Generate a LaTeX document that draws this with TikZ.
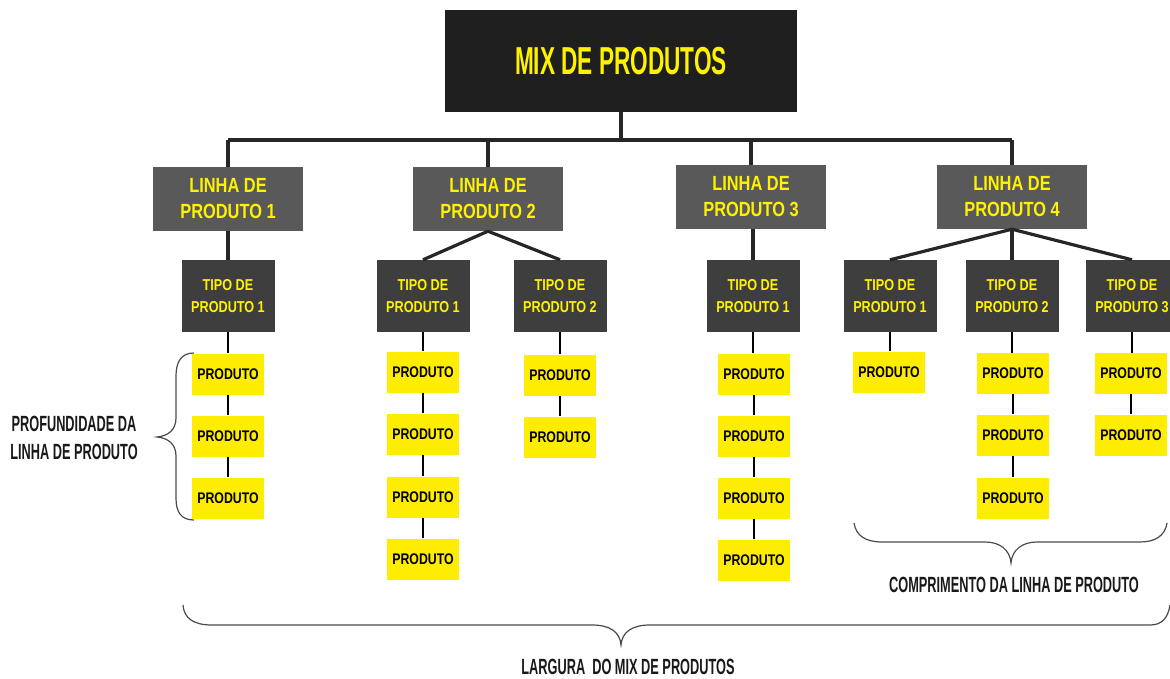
\documentclass[tikz,border=0pt]{standalone}
\usepackage{fontspec}
\setmainfont{Liberation Sans}
\newfontfamily\boxfont[FakeStretch=0.8]{Liberation Sans}
\newfontfamily\labfont[FakeStretch=0.58]{Liberation Sans}
\definecolor{topbg}{HTML}{1F1F1F}
\definecolor{linbg}{HTML}{595959}
\definecolor{tipbg}{HTML}{3E3E3E}
\definecolor{prodbg}{HTML}{FFED00}
\definecolor{txty}{HTML}{FFF200}
\definecolor{ln}{HTML}{262626}
\definecolor{brc}{HTML}{4A4A4A}
\begin{document}
\begin{tikzpicture}[x=1pt,y=-1pt,
  topbox/.style={fill=topbg, minimum width=352pt, minimum height=102pt, inner sep=0pt, text=txty,
    font=\labfont\bfseries\fontsize{39}{39}\selectfont},
  linbox/.style={fill=linbg, minimum width=150pt, minimum height=64pt, inner sep=0pt, text=txty, align=center,
    font=\boxfont\bfseries\fontsize{20.5}{26}\selectfont},
  tipbox/.style={fill=tipbg, minimum width=93pt, minimum height=72pt, inner sep=0pt, text=txty, align=center,
    font=\boxfont\bfseries\fontsize{15.8}{21.5}\selectfont},
  prodbox/.style={fill=prodbg, minimum width=72pt, minimum height=41pt, inner sep=0pt, text=black,
    font=\boxfont\bfseries\fontsize{15.4}{18}\selectfont},
  lab/.style={text=black!90, align=center, inner sep=0pt, font=\labfont\bfseries\fontsize{22}{28}\selectfont},
  busline/.style={draw=ln, line width=3.2pt},
  tline/.style={draw=ln, line width=3.2pt},
  pline/.style={draw=black, line width=2.4pt},
  bracestyle/.style={draw=brc, line width=1.2pt}
]
\clip (0,0) rectangle (1170,679);
\fill[white] (0,0) rectangle (1170,679);

\coordinate (busL) at (228,140);
\coordinate (busR) at (1012,140);

% top
\node[topbox] (top) at (621,61) {MIX DE PRODUTOS};

% product lines
\node[linbox] (L1) at (228,199) {LINHA DE\\PRODUTO 1};
\node[linbox] (L2) at (488,199) {LINHA DE\\PRODUTO 2};
\node[linbox] (L3) at (751,197) {LINHA DE\\PRODUTO 3};
\node[linbox] (L4) at (1012,197) {LINHA DE\\PRODUTO 4};

% types
\node[tipbox] (T11) at (228,296) {TIPO DE\\PRODUTO 1};
\node[tipbox] (T21) at (423,296) {TIPO DE\\PRODUTO 1};
\node[tipbox] (T22) at (560,296) {TIPO DE\\PRODUTO 2};
\node[tipbox] (T31) at (753,296) {TIPO DE\\PRODUTO 1};
\node[tipbox] (T41) at (890,296) {TIPO DE\\PRODUTO 1};
\node[tipbox] (T42) at (1012,296) {TIPO DE\\PRODUTO 2};
\node[tipbox] (T43) at (1132,296) {TIPO DE\\PRODUTO 3};

% products
\node[prodbox] (P11a) at (228,374) {PRODUTO};
\node[prodbox] (P11b) at (228,436) {PRODUTO};
\node[prodbox] (P11c) at (228,498) {PRODUTO};

\node[prodbox] (P21a) at (423,372) {PRODUTO};
\node[prodbox] (P21b) at (423,434) {PRODUTO};
\node[prodbox] (P21c) at (423,497) {PRODUTO};
\node[prodbox] (P21d) at (423,559) {PRODUTO};

\node[prodbox] (P22a) at (560,375) {PRODUTO};
\node[prodbox] (P22b) at (560,437) {PRODUTO};

\node[prodbox] (P31a) at (754,374) {PRODUTO};
\node[prodbox] (P31b) at (754,436) {PRODUTO};
\node[prodbox] (P31c) at (754,498) {PRODUTO};
\node[prodbox] (P31d) at (754,560) {PRODUTO};

\node[prodbox] (P41a) at (889,372) {PRODUTO};

\node[prodbox] (P42a) at (1013,373.5) {PRODUTO};
\node[prodbox] (P42b) at (1013,435) {PRODUTO};
\node[prodbox] (P42c) at (1013,498) {PRODUTO};

\node[prodbox] (P43a) at (1131,373.5) {PRODUTO};
\node[prodbox] (P43b) at (1131,435) {PRODUTO};

% bus
\draw[busline] (busL) -- (busR);
\draw[busline] (top.south) -- (top.south |- busL);
\foreach \n in {L1,L2,L3,L4}{
  \draw[busline] (\n.north) -- (\n.north |- busL);
}

% line -> type
\draw[tline] (L1.south) -- (T11.north);
\draw[tline] (L2.south) -- (T21.north);
\draw[tline] (L2.south) -- (T22.north);
\draw[tline] (T31.north |- L3.south) -- (T31.north);
\draw[tline] (L4.south) -- (T41.north);
\draw[tline] (L4.south) -- (T42.north);
\draw[tline] (L4.south) -- (T43.north);

% type -> products
\draw[pline] (T11.south) -- (P11a.north);
\draw[pline] (P11a.south) -- (P11b.north);
\draw[pline] (P11b.south) -- (P11c.north);

\draw[pline] (T21.south) -- (P21a.north);
\draw[pline] (P21a.south) -- (P21b.north);
\draw[pline] (P21b.south) -- (P21c.north);
\draw[pline] (P21c.south) -- (P21d.north);

\draw[pline] (T22.south) -- (P22a.north);
\draw[pline] (P22a.south) -- (P22b.north);

\draw[pline] (T31.south) -- (T31.south |- P31a.north);
\draw[pline] (P31a.south) -- (P31b.north);
\draw[pline] (P31b.south) -- (P31c.north);
\draw[pline] (P31c.south) -- (P31d.north);

\draw[pline] (T41.south) -- (T41.south |- P41a.north);

\draw[pline] (T42.south) -- (T42.south |- P42a.north);
\draw[pline] (P42a.south) -- (P42b.north);
\draw[pline] (P42b.south) -- (P42c.north);

\draw[pline] (T43.south) -- (T43.south |- P43a.north);
\draw[pline] (P43a.south) -- (P43b.north);

% braces
\draw[bracestyle] (194,353) .. controls (181,353) and (176,362) .. (176,376) -- (176,418)
  .. controls (176,430) and (168,436) .. (157,437)
  .. controls (168,438) and (176,444) .. (176,456) -- (176,498)
  .. controls (176,512) and (181,520) .. (194,520);

\draw[bracestyle] (854,523) .. controls (856,536) and (866,542) .. (882,542) -- (985,542)
  .. controls (1000,542) and (1010,550) .. (1011,563)
  .. controls (1012,550) and (1022,542) .. (1037,542) -- (1140,542)
  .. controls (1155,542) and (1165,536) .. (1167,523);

\draw[bracestyle] (183,605) .. controls (184,618) and (193,625) .. (212,625) -- (592,625)
  .. controls (610,625) and (620,632) .. (621,645)
  .. controls (622,632) and (632,625) .. (650,625) -- (1150,625)
  .. controls (1162,625) and (1168,618) .. (1170,605);

% labels
\node[lab] (prof) at (74,438) {PROFUNDIDADE DA\\LINHA DE PRODUTO};
\node[lab] (comp) at (1014,585) {COMPRIMENTO DA LINHA DE PRODUTO};
\node[lab] (larg) at (628,667) {LARGURA\ \ DO MIX DE PRODUTOS};
\end{tikzpicture}
\end{document}
